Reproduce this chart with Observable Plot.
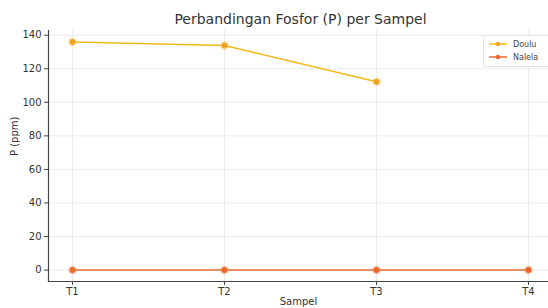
<!DOCTYPE html>
<html>
<head>
<meta charset="utf-8">
<script src="https://cdn.jsdelivr.net/npm/d3@7"></script>
<script src="https://cdn.jsdelivr.net/npm/@observablehq/plot@0.6"></script>
<style>
  html, body { margin: 0; padding: 0; background: #fff; }
  #wrap { position: relative; width: 548px; height: 308px; overflow: hidden; font-family: "DejaVu Sans", sans-serif; }
  #title { position: absolute; left: 48px; width: 505px; top: 11px; text-align: center; font-size: 14px; color: #333; }
  #legend { position: absolute; left: 483px; top: 35px; width: 70px; height: 30px; border: 1px solid #e6e6e6; border-radius: 2px; background: rgba(255,255,255,0.9); font-size: 8px; color: #444; }
  .item { position: absolute; left: 5px; height: 12px; display: flex; align-items: center; }
  .item svg { margin-right: 6px; }
</style>
</head>
<body>
<div id="wrap">
  <div id="title">Perbandingan Fosfor (P) per Sampel</div>
  <div id="chart"></div>
  <div id="legend"></div>
</div>
<script>
const samples = ["T1", "T2", "T3", "T4"];
const seriesNames = ["Doulu", "Nalela"];
const douluValues = [136, 133.8, 112.3, null];
const nalelaValues = [0, 0, 0, 0];
const yTicks = [0, 20, 40, 60, 80, 100, 120, 140];
const lineColors = {Doulu: "#f4b817", Nalela: "#eb6a32"};
const dotColors = {Doulu: "#eea524", Nalela: "#e8682f"};

const data = [];
samples.forEach((s, i) => {
  if (douluValues[i] != null) data.push({sample: s, value: douluValues[i], series: "Doulu"});
  if (nalelaValues[i] != null) data.push({sample: s, value: nalelaValues[i], series: "Nalela"});
});

const chart = Plot.plot({
  width: 548,
  height: 308,
  marginLeft: 48,
  marginRight: 0,
  marginTop: 30,
  marginBottom: 27,
  style: {fontFamily: "DejaVu Sans, sans-serif", fontSize: "10px", color: "#333", background: "transparent"},
  x: {type: "point", domain: samples, padding: 0, insetLeft: 23, insetRight: 19, label: null},
  y: {domain: [-6.8, 142.8], label: null},
  marks: [
    Plot.gridX(samples, {stroke: "#e4e4e4", strokeOpacity: 1, strokeWidth: 0.8}),
    Plot.gridY(yTicks, {stroke: "#e4e4e4", strokeOpacity: 1, strokeWidth: 0.8}),
    Plot.axisX({ticks: samples, tickSize: 4, tickPadding: 2, stroke: "#444", fontSize: 10}),
    Plot.axisY({ticks: yTicks, tickSize: 4, tickPadding: 3, stroke: "#444", fontSize: 10}),
    Plot.frame({anchor: "left", stroke: "#444", strokeWidth: 1.2}),
    Plot.frame({anchor: "bottom", stroke: "#444", strokeWidth: 1.2}),
    Plot.line(data, {x: "sample", y: "value", z: "series", stroke: d => lineColors[d.series], strokeWidth: 1.5}),
    Plot.dot(data, {x: "sample", y: "value", fill: d => dotColors[d.series], r: 3, stroke: d => dotColors[d.series], strokeOpacity: 0.25, strokeWidth: 3}),
    Plot.text(["P (ppm)"], {frameAnchor: "left", dx: -34, rotate: -90, fontSize: 10, fill: "#333"}),
    Plot.text(["Sampel"], {frameAnchor: "bottom", dy: 23, fontSize: 10, fill: "#333"})
  ]
});
chart.style.maxWidth = "none";
document.getElementById("chart").appendChild(chart);

// legend
const legend = document.getElementById("legend");
seriesNames.forEach((name, i) => {
  const div = document.createElement("div");
  div.className = "item";
  div.style.top = (2 + i * 13) + "px";
  div.innerHTML = `<svg width="18" height="8"><line x1="0" y1="4" x2="18" y2="4" stroke="${lineColors[name]}" stroke-width="1.5"/><circle cx="9" cy="4" r="2.2" fill="${dotColors[name]}"/></svg><span>${name}</span>`;
  legend.appendChild(div);
});
</script>
</body>
</html>
